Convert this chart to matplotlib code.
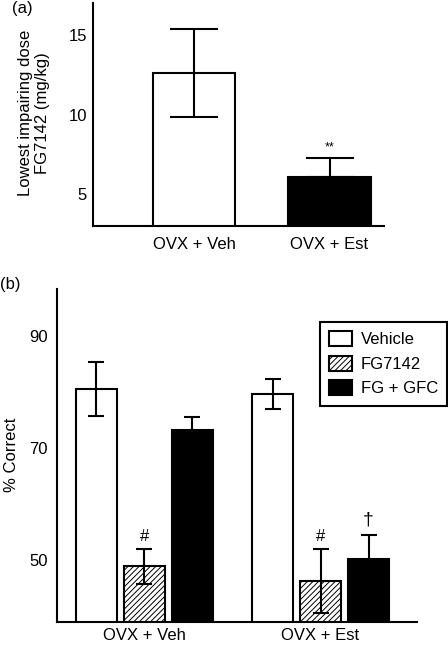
import numpy as np
import matplotlib
matplotlib.use('Agg')
import matplotlib.pyplot as plt

plt.rcParams['font.family'] = ['Liberation Sans', 'DejaVu Sans']
plt.rcParams['font.size'] = 12
plt.rcParams['hatch.linewidth'] = 0.7

# (a) lowest impairing dose
groups_a = ['OVX + Veh', 'OVX + Est']
dose_mean = [12.6, 6.1]
dose_err_lo = [2.75, 0.0]
dose_err_hi = [2.75, 1.2]

# (b) % correct
groups_b = ['OVX + Veh', 'OVX + Est']
treatments = ['Vehicle', 'FG7142', 'FG + GFC']
pct_veh = [80.6, 48.9, 73.3]
err_veh = [4.8, 3.1, 2.3]
pct_est = [79.7, 46.3, 50.2]
err_est = [2.7, 5.7, 4.4]

fig = plt.figure(figsize=(4.48, 6.45), dpi=100)

lw = 1.5

# ---- panel (a)
ax1 = fig.add_axes([0.2076, 0.6496, 0.6496, 0.3457])
xa = np.arange(len(groups_a))
ax1.bar(xa, dose_mean, width=0.61, bottom=0, color=['white', 'black'],
        edgecolor='black', linewidth=lw, zorder=2)
ax1.errorbar(xa, dose_mean, yerr=[dose_err_lo, dose_err_hi], fmt='none',
             ecolor='black', elinewidth=lw, capsize=17, capthick=lw, zorder=3)
ax1.annotate('**', xy=(xa[1], dose_mean[1] + dose_err_hi[1]), xytext=(0, 3),
             textcoords='offset points', ha='center', va='bottom', fontsize=9)
ax1.set_xlim(-0.745, 1.402)
ax1.set_ylim(3, 17)
ax1.set_yticks([5, 10, 15])
ax1.set_xticks(xa)
ax1.set_xticklabels(groups_a)
ax1.tick_params(axis='x', length=0, pad=8)
ax1.tick_params(axis='y', length=0, pad=4.5)
for s in ['top', 'right']:
    ax1.spines[s].set_visible(False)
for s in ['left', 'bottom']:
    ax1.spines[s].set_linewidth(lw)
fig.text(34 / 448, 1 - 113 / 645, 'Lowest impairing dose\nFG7142 (mg/kg)',
         rotation=90, ha='center', va='center', multialignment='center',
         linespacing=1.15)
fig.text(12 / 448, 1 - 8 / 645, '(a)', va='center')

# ---- panel (b)
ax2 = fig.add_axes([0.1272, 0.0357, 0.8036, 0.5163])
offsets = [0.0, 3.67]
colors = ['white', 'white', 'black']
hatches = [None, '//////', None]
all_pct = [pct_veh, pct_est]
all_err = [err_veh, err_est]
for t in range(3):
    xs = [offsets[g] + t for g in range(2)]
    ys = [all_pct[g][t] for g in range(2)]
    es = [all_err[g][t] for g in range(2)]
    ax2.bar(xs, ys, width=0.86, bottom=0, color=colors[t], edgecolor='black',
            hatch=hatches[t], linewidth=lw, label=treatments[t], zorder=2)
    ax2.errorbar(xs, ys, yerr=es, fmt='none', ecolor='black', elinewidth=lw,
                 capsize=6, capthick=lw, zorder=3)

for g in range(2):
    ax2.annotate('#', xy=(offsets[g] + 1, all_pct[g][1] + all_err[g][1]),
                 xytext=(0, 4), textcoords='offset points', ha='center',
                 va='bottom', fontsize=12)
ax2.annotate('\u2020', xy=(offsets[1] + 2, pct_est[2] + err_est[2]),
             xytext=(0, 4), textcoords='offset points', ha='center',
             va='bottom', fontsize=14)

ax2.set_xlim(-0.82, 6.68)
ax2.set_ylim(39, 98.4)
ax2.set_yticks([50, 70, 90])
ax2.set_xticks([offsets[0] + 1, offsets[1] + 1])
ax2.set_xticklabels(groups_b)
ax2.tick_params(axis='x', length=0, pad=4.5)
ax2.tick_params(axis='y', length=0, pad=6.5)
for s in ['top', 'right']:
    ax2.spines[s].set_visible(False)
for s in ['left', 'bottom']:
    ax2.spines[s].set_linewidth(lw)
fig.text(11 / 448, 1 - 455 / 645, '% Correct', rotation=90,
         ha='center', va='center')
fig.text(0.0, 1 - 285 / 645, '(b)', va='center')

leg = ax2.legend(loc='upper left', bbox_to_anchor=(320 / 448, 1 - 322 / 645),
                 bbox_transform=fig.transFigure, fancybox=False,
                 edgecolor='black', framealpha=1, borderaxespad=0,
                 handlelength=1.38, handleheight=1.0, handletextpad=0.5,
                 labelspacing=0.5, borderpad=0.55)
leg.get_frame().set_linewidth(lw)

fig.savefig('out.png', dpi=100)
